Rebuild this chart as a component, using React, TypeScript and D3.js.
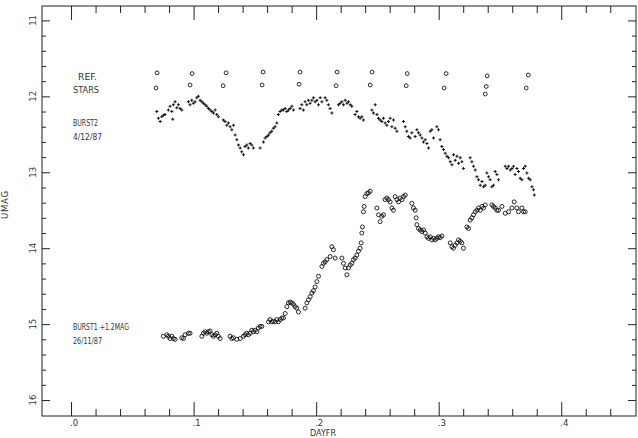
import React, { useEffect, useRef } from "react";
import * as d3 from "d3";

// comparison stars (two rows of open circles at the top)
const refDayA = [0.0702, 0.0988, 0.1265, 0.1567, 0.1869, 0.2171, 0.2457, 0.2743, 0.3061, 0.3396, 0.3731];
const refMagA = [11.69, 11.7, 11.69, 11.68, 11.68, 11.68, 11.68, 11.7, 11.7, 11.73, 11.72];
const refDayB = [0.0694, 0.0971, 0.1241, 0.1559, 0.1861, 0.2163, 0.2441, 0.2735, 0.3045, 0.3388, 0.338, 0.3714];
const refMagB = [11.89, 11.85, 11.86, 11.85, 11.84, 11.86, 11.85, 11.86, 11.89, 11.87, 11.97, 11.89];

// BURST2, 4/12/87 (small dots)
const burst2Day = [
    0.07, 0.0713, 0.0727, 0.074, 0.0753, 0.0767, 0.0794, 0.0808, 0.0822, 0.083, 0.0835, 0.0849, 0.0863, 0.0876, 0.089, 0.0904,
    0.0958, 0.0971, 0.0985, 0.0998, 0.1012, 0.1026, 0.1039, 0.1053, 0.1067, 0.108, 0.1094, 0.1108, 0.1121, 0.1135, 0.1149, 0.1162, 0.1176, 0.1189, 0.1202,
    0.1243, 0.1257, 0.1271, 0.1284, 0.1298, 0.1312, 0.1325, 0.1339, 0.1353, 0.1366, 0.138, 0.1393, 0.1407, 0.142, 0.1434, 0.1447, 0.1461, 0.1475, 0.1488,
    0.1543, 0.157, 0.1584, 0.1598, 0.1611, 0.1624, 0.1638, 0.1651, 0.1665, 0.1679, 0.1692,
    0.1706, 0.172, 0.1733, 0.1747, 0.1761, 0.1774, 0.1788, 0.1802, 0.1815,
    0.1869, 0.1883, 0.1896, 0.191, 0.1924, 0.1937, 0.1951, 0.1965, 0.1978, 0.1992, 0.2006, 0.2019, 0.2033, 0.2047, 0.2073, 0.2087, 0.21, 0.2114, 0.2128,
    0.2182, 0.2196, 0.221, 0.2223, 0.2237, 0.2251, 0.2264, 0.2278, 0.2291, 0.2318, 0.2332, 0.2345, 0.2359, 0.2373, 0.2386,
    0.2455, 0.2468, 0.2482, 0.2496, 0.2509, 0.2522, 0.2536, 0.2549, 0.2563, 0.2577, 0.259, 0.2604, 0.2618, 0.2631, 0.2645, 0.2659,
    0.2713, 0.2727, 0.274, 0.2753,
    0.2767, 0.2781, 0.2808, 0.2822, 0.2835, 0.2849, 0.2863, 0.2876, 0.289, 0.2904, 0.2917, 0.2931, 0.2944, 0.2958,
    0.2985, 0.2998, 0.3012, 0.3026, 0.3039, 0.3053, 0.3067, 0.308, 0.3094, 0.3108, 0.3121, 0.3135, 0.3149, 0.3162, 0.3176, 0.3189, 0.3202,
    0.3257, 0.3271, 0.3284, 0.3298, 0.3312, 0.3325, 0.3339, 0.3353, 0.3366, 0.338, 0.3393, 0.3407, 0.342, 0.3434, 0.3447, 0.3461, 0.3475, 0.3488,
    0.3543, 0.3557, 0.357, 0.3584, 0.3598, 0.3611, 0.3624, 0.3638, 0.3651, 0.3665, 0.3679, 0.3692, 0.3706, 0.372, 0.3733, 0.3747, 0.3761, 0.3774, 0.378,
];
const burst2Mag = [
    12.2, 12.29, 12.33, 12.27, 12.25, 12.24, 12.18, 12.13, 12.2, 12.3, 12.11, 12.07, 12.15, 12.11, 12.16, 12.18,
    12.07, 12.11, 12.05, 12.09, 12.07, 12.02, 12.0, 12.05, 12.07, 12.09, 12.11, 12.13, 12.16, 12.18, 12.2, 12.22, 12.18, 12.24, 12.27,
    12.31, 12.33, 12.38, 12.35, 12.4, 12.44, 12.38, 12.51, 12.57, 12.64, 12.68, 12.73, 12.77, 12.66, 12.64, 12.68, 12.62, 12.64, 12.68,
    12.68, 12.6, 12.55, 12.53, 12.51, 12.48, 12.46, 12.42, 12.4, 12.35, 12.24,
    12.2, 12.18, 12.18, 12.16, 12.2, 12.18, 12.16, 12.13, 12.18,
    12.16, 12.11, 12.18, 12.07, 12.11, 12.05, 12.09, 12.05, 12.02, 12.07, 12.05, 12.11, 12.02, 12.07, 12.02, 12.05, 12.11, 12.16, 12.22,
    12.11, 12.09, 12.07, 12.11, 12.05, 12.09, 12.07, 12.11, 12.13, 12.24, 12.2, 12.27, 12.29, 12.27, 12.31,
    12.18, 12.22, 12.11, 12.24, 12.29, 12.31, 12.33, 12.29, 12.35, 12.38, 12.33, 12.29, 12.4, 12.31, 12.42, 12.46,
    12.33, 12.4, 12.46, 12.53,
    12.55, 12.48, 12.53, 12.44, 12.48, 12.51, 12.55, 12.6, 12.57, 12.62, 12.68, 12.46, 12.44, 12.55,
    12.4, 12.44, 12.57, 12.66, 12.7, 12.75, 12.79, 12.81, 12.86, 12.9, 12.77, 12.84, 12.79, 12.88, 12.81, 12.86, 12.95,
    12.81, 12.86, 12.92, 12.97, 13.06, 13.1, 13.17, 13.12, 13.19, 13.17, 13.01, 13.06, 13.1, 13.19, 13.17, 12.99, 13.03, 13.1,
    12.92, 12.95, 12.92, 12.97, 12.95, 12.92, 13.03, 12.95, 12.99, 13.08, 13.1, 12.95, 12.92, 13.01, 13.08, 13.1, 13.19, 13.23, 13.3,
];

// BURST1 + 1.2 mag, 26/11/87 (open circles)
const burst1Day = [
    0.0753, 0.0781, 0.0794, 0.0808, 0.0822, 0.0835, 0.0849, 0.0904, 0.0917, 0.0931, 0.0958, 0.0971,
    0.1067, 0.108, 0.1094, 0.1108, 0.1121, 0.1135, 0.1149, 0.1162, 0.1176, 0.1189, 0.1202, 0.1216,
    0.1298, 0.1312, 0.1325, 0.1353, 0.138, 0.1407, 0.142, 0.1434, 0.1447, 0.1461, 0.1475, 0.1488, 0.1502, 0.1516, 0.1529, 0.1543, 0.1557,
    0.1611, 0.1624, 0.1638, 0.1651, 0.1665, 0.1679, 0.1692, 0.1706, 0.172, 0.1733, 0.1747,
    0.1761, 0.1774, 0.1788, 0.1802, 0.1815, 0.1829, 0.1842, 0.1856,
    0.191, 0.1924, 0.1937, 0.1951, 0.1965, 0.1978, 0.1992, 0.2006, 0.2019,
    0.2047, 0.206, 0.2073, 0.2087, 0.2114, 0.2128, 0.2141, 0.2155,
    0.221, 0.2223, 0.2237, 0.2251, 0.2264, 0.2278, 0.2291, 0.2305, 0.2318, 0.2332, 0.2345, 0.2359, 0.2367, 0.2373, 0.2378, 0.2386, 0.2392, 0.24, 0.2414, 0.2427, 0.2441,
    0.2496, 0.2509, 0.2522, 0.2536, 0.2549, 0.2563, 0.2577, 0.259, 0.2604, 0.2618, 0.2631, 0.2645, 0.2659, 0.2672, 0.2686, 0.27, 0.2713, 0.2727,
    0.2781, 0.2794, 0.2808, 0.2816, 0.2822, 0.2835, 0.2849, 0.2863, 0.2876, 0.289, 0.2904, 0.2917, 0.2931, 0.2944, 0.2958, 0.2971, 0.2985, 0.2998, 0.3012, 0.3026,
    0.3094, 0.3108, 0.3121, 0.3135, 0.3149, 0.3162, 0.3176, 0.3189, 0.3202,
    0.323, 0.3243, 0.3257, 0.3271, 0.3284, 0.3298, 0.3312, 0.3325, 0.3339, 0.3353, 0.3366, 0.338,
    0.3434, 0.3447, 0.3461, 0.3475, 0.3488, 0.3516, 0.3543, 0.357, 0.3598, 0.3616, 0.3638, 0.3651, 0.3679, 0.3692, 0.3706,
];
const burst1Mag = [
    15.16, 15.14, 15.16, 15.19, 15.16, 15.19, 15.2, 15.18, 15.19, 15.14, 15.12, 15.12,
    15.16, 15.12, 15.1, 15.12, 15.1, 15.09, 15.14, 15.16, 15.14, 15.12, 15.16, 15.19,
    15.16, 15.19, 15.18, 15.2, 15.19, 15.16, 15.14, 15.12, 15.14, 15.12, 15.08, 15.1, 15.08, 15.1, 15.05, 15.03, 15.03,
    14.97, 14.94, 14.97, 14.96, 14.97, 14.94, 14.97, 14.94, 14.92, 14.92, 14.86,
    14.77, 14.72, 14.71, 14.72, 14.74, 14.77, 14.79, 14.84,
    14.79, 14.72, 14.68, 14.64, 14.59, 14.56, 14.51, 14.44, 14.37,
    14.24, 14.2, 14.18, 14.15, 14.11, 13.98, 14.02, 14.13,
    14.13, 14.2, 14.26, 14.35, 14.26, 14.22, 14.2, 14.15, 14.13, 14.09, 14.04, 14.0, 13.93, 13.8, 13.72, 13.52, 13.45, 13.32, 13.28, 13.27, 13.25,
    13.47, 13.56, 13.65, 13.58, 13.56, 13.36, 13.34, 13.36, 13.39, 13.47, 13.5, 13.32, 13.36, 13.39, 13.34, 13.36, 13.32, 13.3,
    13.41, 13.47, 13.5, 13.6, 13.69, 13.74, 13.76, 13.78, 13.76, 13.8, 13.85, 13.87, 13.85, 13.89, 13.87, 13.89, 13.87, 13.85, 13.86, 13.84,
    13.93, 13.98, 14.0, 13.96, 13.93, 13.89, 13.91, 13.93, 14.0,
    13.72, 13.74, 13.63, 13.6, 13.56, 13.52, 13.5, 13.47, 13.5, 13.45, 13.47, 13.43,
    13.43, 13.45, 13.47, 13.5, 13.5, 13.45, 13.54, 13.52, 13.47, 13.39, 13.47, 13.52, 13.47, 13.52, 13.52,
];

const xMajor = [0, 0.1, 0.2, 0.3, 0.4];
const yMajor = [11, 12, 13, 14, 15, 16];

const zip = (a: number[], b: number[]) => a.slice(0, Math.min(a.length, b.length)).map((d, i) => [d, b[i]]);

const App: React.FC = () => {
    const svgRef = useRef<SVGSVGElement>(null);

    const width = 638;
    const height = 438;
    const left = 42;
    const right = 636;
    const top = 6;
    const bottom = 416;

    useEffect(() => {
        if (!svgRef.current) return;
        const svg = d3.select(svgRef.current);
        svg.selectAll("*").remove();

        const ink = "#222";
        const font = "DejaVu Sans, sans-serif";

        const x = d3.scaleLinear().domain([-0.0237, 0.461]).range([left, right]);
        const y = d3.scaleLinear().domain([10.81, 16.21]).range([top, bottom]);

        // minor ticks every .02 day and .2 mag
        const xMinor = d3.range(1, 23).map((i) => i * 0.02).filter((v) => Math.abs(v * 10 - Math.round(v * 10)) > 1e-6);
        const yMinor = d3.range(0, 26).map((i) => 11 + i * 0.2).filter((v) => Math.abs(v - Math.round(v)) > 1e-6);

        const clean = (g: d3.Selection<SVGGElement, unknown, null, undefined>) => {
            g.select(".domain").remove();
            g.selectAll("line").attr("stroke", ink).attr("stroke-width", 1);
        };

        // bottom / top axes
        [
            { gen: d3.axisBottom, pos: bottom, sign: -1 },
            { gen: d3.axisTop, pos: top, sign: -1 },
        ].forEach(({ gen, pos, sign }) => {
            svg.append("g")
                .attr("transform", `translate(0,${pos})`)
                .call(gen(x).tickValues(xMinor).tickSize(sign * 7).tickFormat(() => ""))
                .call(clean);
            svg.append("g")
                .attr("transform", `translate(0,${pos})`)
                .call(gen(x).tickValues(xMajor).tickSize(sign * 14).tickFormat(() => ""))
                .call(clean);
        });

        // left / right axes
        [
            { gen: d3.axisLeft, pos: left },
            { gen: d3.axisRight, pos: right },
        ].forEach(({ gen, pos }) => {
            svg.append("g")
                .attr("transform", `translate(${pos},0)`)
                .call(gen(y).tickValues(yMinor).tickSize(-4).tickFormat(() => ""))
                .call(clean);
            svg.append("g")
                .attr("transform", `translate(${pos},0)`)
                .call(gen(y).tickValues(yMajor).tickSize(-8).tickFormat(() => ""))
                .call(clean);
        });

        // frame
        svg.append("rect")
            .attr("x", left)
            .attr("y", top)
            .attr("width", right - left)
            .attr("height", bottom - top)
            .attr("fill", "none")
            .attr("stroke", ink)
            .attr("stroke-width", 1);

        // tick labels
        svg.append("g")
            .selectAll("text")
            .data(xMajor)
            .enter()
            .append("text")
            .attr("x", (d) => x(d) - 1)
            .attr("y", bottom + 10)
            .attr("font-family", font)
            .attr("font-size", 8.5)
            .attr("fill", "#333")
            .text((d) => d3.format(".1f")(d).replace(/^0/, ""));

        svg.append("g")
            .selectAll("text")
            .data(yMajor)
            .enter()
            .append("text")
            .attr("transform", (d) => `translate(${left - 6},${y(d)}) rotate(-90)`)
            .attr("text-anchor", "middle")
            .attr("font-family", font)
            .attr("font-size", 8.5)
            .attr("fill", "#333")
            .text((d) => d);

        // axis titles
        svg.append("text")
            .attr("x", 323)
            .attr("y", bottom + 20)
            .attr("text-anchor", "middle")
            .attr("font-family", font)
            .attr("font-size", 8.5)
            .attr("fill", "#333")
            .attr("textLength", 26)
            .attr("lengthAdjust", "spacingAndGlyphs")
            .text("DAYFR");

        svg.append("text")
            .attr("transform", `translate(8,205) rotate(-90)`)
            .attr("text-anchor", "middle")
            .attr("font-family", font)
            .attr("font-size", 8.5)
            .attr("fill", "#333")
            .attr("textLength", 28)
            .attr("lengthAdjust", "spacing")
            .text("UMAG");

        // annotations
        const notes: [string, number, number, number][] = [
            ["REF.", 78, 80, 19],
            ["STARS", 73, 93, 26],
            ["BURST2", 73, 126, 25],
            ["4/12/87", 73, 140, 29],
            ["BURST1 +1.2MAG", 73, 330, 56],
            ["26/11/87", 73, 344, 29],
        ];
        svg.append("g")
            .selectAll("text")
            .data(notes)
            .enter()
            .append("text")
            .attr("x", (d) => d[1])
            .attr("y", (d) => d[2])
            .attr("font-family", font)
            .attr("font-size", 8.5)
            .attr("fill", "#333")
            .attr("textLength", (d) => d[3])
            .attr("lengthAdjust", "spacingAndGlyphs")
            .text((d) => d[0]);

        // reference stars
        svg.append("g")
            .selectAll("circle")
            .data([...zip(refDayA, refMagA), ...zip(refDayB, refMagB)])
            .enter()
            .append("circle")
            .attr("cx", (d) => x(d[0]))
            .attr("cy", (d) => y(d[1]))
            .attr("r", 1.9)
            .attr("fill", "none")
            .attr("stroke", "#111")
            .attr("stroke-width", 0.9);

        // BURST1 open circles
        svg.append("g")
            .selectAll("circle")
            .data(zip(burst1Day, burst1Mag))
            .enter()
            .append("circle")
            .attr("cx", (d) => x(d[0]))
            .attr("cy", (d) => y(d[1]))
            .attr("r", 2)
            .attr("fill", "none")
            .attr("stroke", "#111")
            .attr("stroke-width", 0.9);

        // BURST2 dots
        const cross = d3.symbol().type(d3.symbolCross).size(5);
        svg.append("g")
            .selectAll("path")
            .data(zip(burst2Day, burst2Mag))
            .enter()
            .append("path")
            .attr("transform", (d) => `translate(${x(d[0])},${y(d[1])})`)
            .attr("d", cross)
            .attr("fill", "#111");
    }, []);

    return (
        <svg
            ref={svgRef}
            width={width}
            height={height}
            style={{ position: "absolute", left: 0, top: 0, background: "#fff" }}
        />
    );
};

export default App;
